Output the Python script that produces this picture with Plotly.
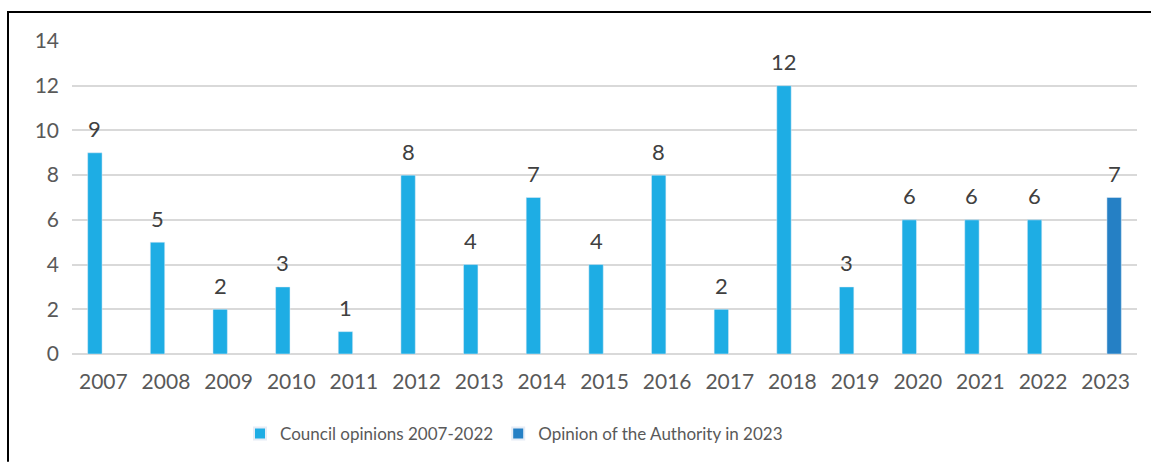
import plotly.graph_objects as go

years = [str(y) for y in range(2007, 2024)]
council = [9, 5, 2, 3, 1, 8, 4, 7, 4, 8, 2, 12, 3, 6, 6, 6, None]
authority = [None] * 16 + [7]
council_name = "Council opinions 2007-2022"
authority_name = "Opinion of the Authority in 2023"

C1 = "#1EADE4"
C2 = "#2580C5"
FONT = "Lato"

idx = list(range(len(years)))

fig = go.Figure()
fig.add_trace(go.Bar(x=idx, y=council, name=council_name, marker_color=C1,
                     width=0.23, offset=-0.25))
fig.add_trace(go.Bar(x=idx, y=authority, name=authority_name, marker_color=C2,
                     width=0.23, offset=0.02))

annotations = []
for i, v in zip(idx, council):
    if v is not None:
        annotations.append(dict(x=i - 0.135, y=v, text=str(v), yshift=24,
                                showarrow=False, font=dict(size=22, color="#404040", family=FONT)))
for i, v in zip(idx, authority):
    if v is not None:
        annotations.append(dict(x=i + 0.135, y=v, text=str(v), yshift=24,
                                showarrow=False, font=dict(size=22, color="#404040", family=FONT)))

L, R, T, B = 72, 14, 41, 108
W, H = 1151, 463
pw, ph = W - L - R, H - T - B
def px(x):
    return (x - L) / pw
def py(y):
    return (H - B - y) / ph

fig.update_layout(
    width=W, height=H,
    margin=dict(l=L, r=R, t=T, b=B),
    plot_bgcolor="white", paper_bgcolor="white",
    font=dict(family=FONT, size=21, color="#595959"),
    showlegend=True,
    legend=dict(orientation="h", x=px(240), y=py(434), xanchor="left", yanchor="middle",
                font=dict(size=17, color="#595959"), itemsizing="constant",
                traceorder="normal", itemwidth=30),
    annotations=annotations,
    shapes=[
        dict(type="line", xref="paper", yref="paper", x0=px(8), x1=px(8), y0=py(463), y1=py(12),
             line=dict(color="black", width=2)),
        dict(type="line", xref="paper", yref="paper", x0=px(7), x1=px(1151), y0=py(12), y1=py(12),
             line=dict(color="black", width=2)),
    ],
)
fig.update_yaxes(range=[0, 14], dtick=2, showgrid=True, gridcolor="#D9D9D9", gridwidth=1.5,
                 zeroline=True, zerolinecolor="#D9D9D9", zerolinewidth=1.5,
                 ticklabelstandoff=12, tickfont=dict(size=21, color="#595959"), fixedrange=True)
fig.update_xaxes(range=[-0.5, len(years) - 0.5], tickmode="array", tickvals=idx, ticktext=years,
                 showgrid=False, zeroline=False, showline=False, ticks="", ticklabelstandoff=13,
                 tickfont=dict(size=21, color="#595959"), fixedrange=True)

fig.write_html("out.html", config={"displayModeBar": False})
